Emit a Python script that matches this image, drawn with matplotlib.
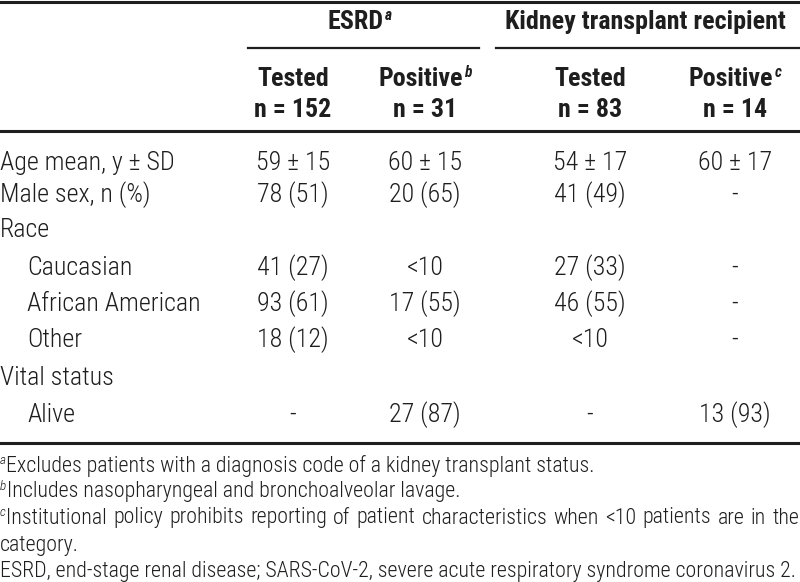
import matplotlib
matplotlib.use("Agg")
import matplotlib.pyplot as plt

# 表格数据
group_titles = ["ESRD", "Kidney transplant recipient"]
group_marks  = ["a", ""]
col_titles   = ["Tested", "Positive", "Tested", "Positive"]
col_marks    = ["", "b", "", "c"]
col_ns       = ["n = 152", "n = 31", "n = 83", "n = 14"]

row_labels = ["Age mean, y \u00b1 SD", "Male sex, n (%)", "Race", "Caucasian",
              "African American", "Other", "Vital status", "Alive"]
row_indent = [False, False, False, True, True, True, False, True]
row_values = [
    ["59 \u00b1 15", "60 \u00b1 15", "54 \u00b1 17", "60 \u00b1 17"],
    ["78 (51)", "20 (65)", "41 (49)", "-"],
    ["", "", "", ""],
    ["41 (27)", "<10", "27 (33)", "-"],
    ["93 (61)", "17 (55)", "46 (55)", "-"],
    ["18 (12)", "<10", "<10", "-"],
    ["", "", "", ""],
    ["-", "27 (87)", "-", "13 (93)"],
]

note_marks = ["a", "b", "c", "", ""]
note_texts = [
    "Excludes patients with a diagnosis code of a kidney transplant status.",
    "Includes nasopharyngeal and bronchoalveolar lavage.",
    "Institutional policy prohibits reporting of patient characteristics when <10 patients are in the",
    "category.",
    "ESRD, end-stage renal disease; SARS-CoV-2, severe acute respiratory syndrome coronavirus 2.",
]
note_justify = [False, False, True, False, False]

# 版式
plt.rcParams["font.family"] = ["Roboto Condensed", "Archivo Narrow", "DejaVu Sans"]
TXT = "#1e1e1e"
BODY_W = 300          # 正文用细体

col_x  = [293, 425, 590, 735]
row_y  = [163, 195, 230, 268, 304, 340, 378, 415]
note_y = [466, 492, 518, 545, 571]

fig = plt.figure(figsize=(8, 5.82), dpi=100)
ax = fig.add_axes([0, 0, 1, 1])
ax.set_xlim(0, 800)
ax.set_ylim(582, 0)
ax.axis("off")
fig.canvas.draw()
rend = fig.canvas.get_renderer()


def text_w(t):
    return t.get_window_extent(renderer=rend).width


def fit_size(s, target, weight):
    """按参考图中的文字宽度求字号。"""
    t = ax.text(0, 0, s, fontsize=10, weight=weight)
    w = text_w(t)
    t.remove()
    return 10 * target / w


FS = fit_size(row_labels[0], 175, BODY_W)
FS_NOTE = fit_size(note_texts[4], 799, BODY_W)


def put_title(x, y, main, mark, size, weight="bold"):
    """居中的标题 + 斜体上标。"""
    t = ax.text(x, y, main, fontsize=size, weight=weight, color=TXT,
                ha="left", va="center")
    w = text_w(t)
    s, sw = None, 0
    if mark:
        s = ax.text(0, y - size * 0.35, mark, fontsize=size * 0.6,
                    style="italic", weight=weight, color=TXT,
                    ha="left", va="center")
        sw = text_w(s) + 1
    x0 = x - (w + sw) / 2
    t.set_x(x0)
    if s is not None:
        s.set_x(x0 + w + 1)


def put_note(y, mark, txt, justify):
    """脚注：前置上标，可两端对齐。"""
    x = 0
    if mark:
        s = ax.text(0, y - FS_NOTE * 0.35, mark, fontsize=FS_NOTE * 0.6,
                    style="italic", weight=BODY_W, color=TXT,
                    ha="left", va="center")
        x = text_w(s) + 0.5
    if not justify:
        ax.text(x, y, txt, fontsize=FS_NOTE, weight=BODY_W, color=TXT,
                ha="left", va="center")
        return
    words = txt.split(" ")
    ts = [ax.text(0, y, wd, fontsize=FS_NOTE, weight=BODY_W, color=TXT,
                  ha="left", va="center") for wd in words]
    ws = [text_w(t) for t in ts]
    gap = (799 - x - sum(ws)) / (len(words) - 1)
    for t, w in zip(ts, ws):
        t.set_x(x)
        x += w + gap


# 横线
ax.plot([0, 800], [2, 2], color=TXT, lw=2.2)
ax.plot([248, 479], [48, 48], color=TXT, lw=1.6)
ax.plot([496, 800], [48, 48], color=TXT, lw=1.6)
ax.plot([0, 800], [131, 131], color=TXT, lw=2.2)
ax.plot([0, 800], [443, 443], color=TXT, lw=2.2)

# 表头
put_title(360, 22, group_titles[0], group_marks[0], FS)
put_title(645, 22, group_titles[1], group_marks[1], FS)
for x, tt, mk, n in zip(col_x, col_titles, col_marks, col_ns):
    put_title(x, 79, tt, mk, FS)
    ax.text(x, 110, n, fontsize=FS, weight="bold", color=TXT,
            ha="center", va="center")

# 表体
for y, lab, ind, vals in zip(row_y, row_labels, row_indent, row_values):
    ax.text(27 if ind else 0, y, lab, fontsize=FS, weight=BODY_W, color=TXT,
            ha="left", va="center")
    for x, v in zip(col_x, vals):
        ax.text(x, y, v, fontsize=FS, weight=BODY_W, color=TXT,
                ha="center", va="center")

# 脚注
for y, mk, nt, js in zip(note_y, note_marks, note_texts, note_justify):
    put_note(y, mk, nt, js)

fig.savefig("out.png", dpi=100)
